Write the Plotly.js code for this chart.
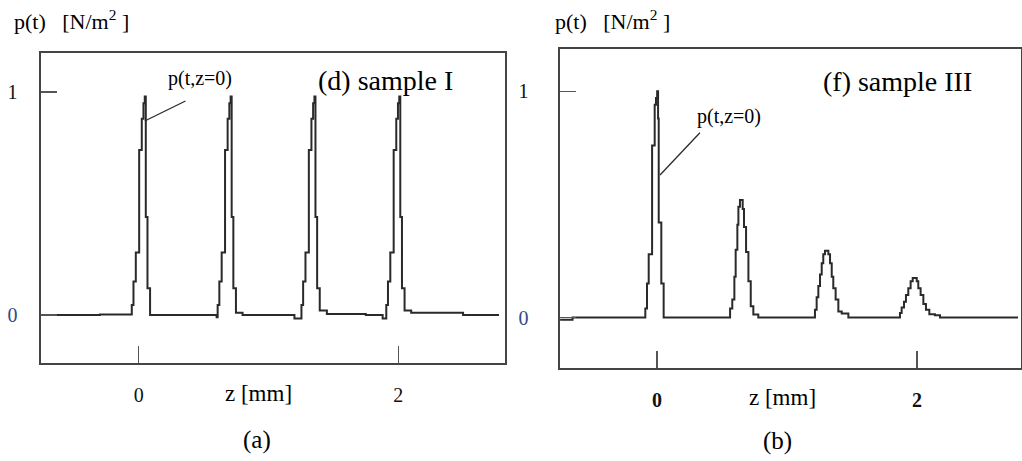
<!DOCTYPE html>
<html>
<head>
<meta charset="utf-8">
<script src="https://cdn.plot.ly/plotly-3.0.1.min.js"></script>
<style>html,body{margin:0;padding:0;background:#fff}#chart{width:1022px;height:461px}</style>
</head>
<body>
<div id="chart"></div>
<script>
// Panel (a): sample I — z positions [mm] and pressure p(t) [N/m^2] (step-wise trace)
const zA = [-0.654, -0.30, -0.054, -0.041, -0.023, 0.003, 0.023, 0.036, 0.046, 0.054, 0.067, 0.087, 0.30,
            0.60, 0.608, 0.621, 0.639, 0.665, 0.685, 0.698, 0.708, 0.716, 0.729, 0.749, 0.80, 1.10,
            1.20, 1.254, 1.267, 1.285, 1.311, 1.331, 1.344, 1.354, 1.362, 1.375, 1.395, 1.45, 1.75,
            1.88, 1.908, 1.921, 1.939, 1.965, 1.985, 1.998, 2.008, 2.016, 2.029, 2.049, 2.10, 2.50, 2.777];
const pA = [0.0, 0.002, 0.045, 0.15, 0.28, 0.74, 0.88, 0.95, 0.98, 0.44, 0.12, 0.0, 0.0,
            -0.01, 0.045, 0.15, 0.28, 0.74, 0.88, 0.95, 0.98, 0.44, 0.12, 0.01, 0.0, 0.0,
            -0.015, 0.045, 0.15, 0.28, 0.74, 0.88, 0.95, 0.98, 0.44, 0.12, 0.02, 0.005, 0.0,
            -0.015, 0.045, 0.15, 0.28, 0.74, 0.88, 0.95, 0.98, 0.44, 0.12, 0.02, 0.01, 0.0, 0.0];

// Panel (b): sample III
const zB = [-0.746, -0.65, -0.09, -0.077, -0.064, -0.038, -0.018, -0.008, 0.001, 0.008, 0.013, 0.033, 0.051, 0.30,
            0.562, 0.579, 0.595, 0.605, 0.618, 0.626, 0.638, 0.659, 0.669, 0.685, 0.703, 0.721, 0.741, 0.779,
            1.215, 1.228, 1.241, 1.254, 1.267, 1.279, 1.292, 1.318, 1.331, 1.344, 1.356, 1.374, 1.395, 1.421, 1.472,
            1.869, 1.882, 1.90, 1.915, 1.933, 1.951, 1.967, 1.998, 2.01, 2.028, 2.049, 2.069, 2.095, 2.138, 2.177, 2.777];
const pB = [-0.01, 0.0, 0.04, 0.15, 0.28, 0.76, 0.94, 0.97, 1.0, 0.88, 0.42, 0.15, 0.0, 0.0,
            0.04, 0.08, 0.18, 0.30, 0.41, 0.49, 0.52, 0.48, 0.40, 0.29, 0.16, 0.05, 0.013, 0.0,
            0.035, 0.09, 0.14, 0.19, 0.24, 0.28, 0.295, 0.28, 0.24, 0.18, 0.13, 0.08, 0.027, 0.018, 0.0,
            0.02, 0.045, 0.07, 0.10, 0.13, 0.16, 0.175, 0.16, 0.13, 0.10, 0.06, 0.035, 0.015, 0.01, 0.0, 0.0];

const xTickVals = [0, 2];
const xTickText = ['0', '2'];
const yTickVals = [0, 1];
const yTickText = ['<span style="color:#2f4a86">0</span>', '1'];

const SERIF = 'Liberation Serif';
const ink = '#2a2a2a';

const traces = [
  {x: zA, y: pA, xaxis: 'x', yaxis: 'y', mode: 'lines', line: {shape: 'hv', color: ink, width: 2}, hoverinfo: 'skip', showlegend: false},
  {x: zB, y: pB, xaxis: 'x2', yaxis: 'y2', mode: 'lines', line: {shape: 'hv', color: ink, width: 2}, hoverinfo: 'skip', showlegend: false}
];

function xax(domain, range, anchor, standoff, bold) {
  return {domain: domain, range: range, anchor: anchor,
    tickvals: xTickVals, ticktext: bold ? xTickText.map(t => '<b>' + t + '</b>') : xTickText,
    ticks: 'inside', ticklen: 17, tickwidth: 1.2, tickcolor: '#555',
    showline: true, mirror: true, linecolor: '#444', linewidth: 1.6,
    showgrid: false, zeroline: false, ticklabelstandoff: standoff,
    tickfont: {family: SERIF, size: 20, color: '#111'}, fixedrange: true};
}
function yax(domain, range, anchor, standoff) {
  return {domain: domain, range: range, anchor: anchor,
    tickvals: yTickVals, ticktext: yTickText,
    ticks: 'inside', ticklen: 16, tickwidth: 1.2, tickcolor: '#555',
    showline: true, mirror: true, linecolor: '#444', linewidth: 1.6,
    showgrid: false, zeroline: false, ticklabelstandoff: standoff,
    tickfont: {family: SERIF, size: 20, color: '#111'}, fixedrange: true};
}

function note(x, y, text, size, anchor) {
  return {xref: 'paper', yref: 'paper', x: x / 1022, y: 1 - y / 461, xanchor: anchor || 'center', yanchor: 'middle',
    showarrow: false, text: text, font: {family: SERIF, size: size, color: '#000'}};
}

const layout = {
  width: 1022, height: 461,
  margin: {l: 0, r: 0, t: 0, b: 0},
  paper_bgcolor: '#ffffff', plot_bgcolor: '#ffffff',
  font: {family: SERIF},
  xaxis: xax([0.0401, 0.4941], [-0.754, 2.823], 'y', 13, false),
  yaxis: yax([0.2126, 0.885], [-0.215, 1.175], 'x', 18),
  xaxis2: xax([0.548, 0.999], [-0.746, 2.8], 'y2', 13, true),
  yaxis2: yax([0.2017, 0.894], [-0.223, 1.1875], 'x2', 26),
  shapes: [
    {type: 'line', xref: 'x', yref: 'y', x0: 0.046, y0: 0.87, x1: 0.36, y1: 0.96, line: {color: ink, width: 1.3}},
    {type: 'line', xref: 'x2', yref: 'y2', x0: 0.023, y0: 0.63, x1: 0.33, y1: 0.817, line: {color: ink, width: 1.3}}
  ],
  annotations: [
    note(12, 20, 'p(t)&nbsp;&nbsp;&nbsp;[N/m<sup>2</sup>&nbsp;]', 22, 'left'),
    note(553, 20, 'p(t)&nbsp;&nbsp;&nbsp;[N/m<sup>2</sup>&nbsp;]', 22, 'left'),
    note(200, 78, 'p(t,z=0)', 20),
    note(729, 117, 'p(t,z=0)', 20),
    note(385, 80, '(d) sample I', 28),
    note(897, 82, '(f) sample III', 28),
    note(258, 393, 'z [mm]', 23),
    note(782, 397, 'z [mm]', 23),
    note(257, 440, '(a)', 25),
    note(777, 441, '(b)', 25)
  ]
};

Plotly.newPlot('chart', traces, layout, {staticPlot: true, displayModeBar: false});
</script>
</body>
</html>
